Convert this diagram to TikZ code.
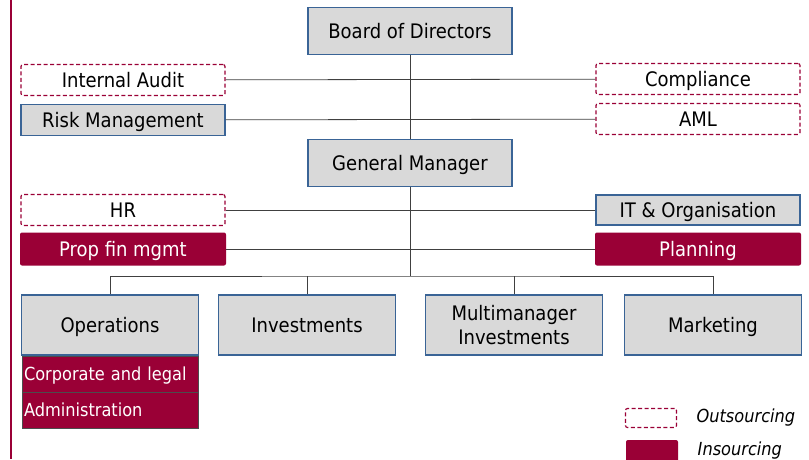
\documentclass[tikz,border=0pt]{standalone}
\usepackage{fontspec}
\setmainfont{DejaVu Sans Condensed}
\usetikzlibrary{positioning, calc}
\definecolor{wine}{HTML}{9A0036}
\definecolor{boxgray}{HTML}{D9D9D9}
\definecolor{boxblue}{HTML}{3A6496}
\definecolor{linegray}{HTML}{404040}

\begin{document}
\begin{tikzpicture}[
    x=1pt, y=-1pt,
    link/.style={thick, linegray},
    unit/.style={rectangle, draw=boxblue, line width=1.2pt, fill=boxgray, font=\fontsize{20}{24}\selectfont, align=center, inner sep=0pt, text height=14pt, text depth=0pt},
    outs/.style={rectangle, draw=wine, dash pattern=on 4pt off 2.5pt, line width=1.2pt, rounded corners=2pt, fill=white, minimum width=204pt, minimum height=31pt, font=\fontsize{20}{24}\selectfont, inner sep=0pt, text height=14pt, text depth=0pt},
    ins/.style={rectangle, fill=wine, rounded corners=2pt, text=white, minimum width=206pt, minimum height=33pt, font=\fontsize{20}{24}\selectfont, inner sep=0pt, text height=14pt, text depth=0pt},
    sub/.style={rectangle, draw=black!70, fill=wine, text=white, minimum width=176pt, minimum height=36pt, text width=172pt, align=left, font=\fontsize{18}{21}\selectfont, inner sep=2pt, text height=13pt, text depth=0pt},
    key/.style={font=\itshape\fontsize{18}{21}\selectfont, anchor=west}
]
    \useasboundingbox (0,0) rectangle (809,459);
    \draw[wine, line width=2pt] (11,0) -- (11,459);

    % top of the tree
    \node[unit, minimum width=204pt, minimum height=47pt] (bod) at (410,31) {Board of Directors};
    \node[unit, minimum width=204pt, minimum height=47pt] (gm)  at (410,163) {General Manager};

    % staff functions
    \node[outs] (audit) at (123,80)  {Internal Audit};
    \node[unit, minimum width=204pt, minimum height=31pt] (risk) at (123,120) {Risk Management};
    \node[outs] (comp)  at (698,79)  {Compliance};
    \node[outs] (aml)   at (698,119) {AML};
    \node[outs] (hr)    at (123,210) {HR};
    \node[ins]  (prop)  at (123,249) {Prop fin mgmt};
    \node[unit, minimum width=204pt, minimum height=30pt] (it) at (698,210) {IT \& Organisation};
    \node[ins]  (plan)  at (698,249) {Planning};

    % departments
    \node[unit, minimum width=177pt, minimum height=60pt] (ops) at (110,325) {Operations};
    \node[unit, minimum width=177pt, minimum height=60pt] (inv) at (307,325) {Investments};
    \node[unit, minimum width=177pt, minimum height=60pt, text height=38pt] (mmi) at (514,325) {Multimanager\\Investments};
    \node[unit, minimum width=177pt, minimum height=60pt] (mkt) at (713,325) {Marketing};
    \node[sub, below=0pt of ops.south] (corp) {Corporate and legal};
    \node[sub, below=0pt of corp] (admin) {Administration};

    \coordinate (bus) at (410,276);

    \draw[link] (bod) -- (gm);
    \draw[link] (audit) -- (comp);
    \draw[link] (risk) -- (aml);
    \draw[link] (hr) -- (it);
    \draw[link] (prop) -- (plan);
    \draw[link] (gm) -- (bus);
    \draw[link] (ops.north) |- (bus) -| (mkt.north);
    \foreach \n in {inv,mmi} {
        \draw[link] (\n.north) -- (\n.north |- bus);
    }

    % legend
    \node[outs, minimum width=51pt, minimum height=19pt] (kout) at (651,418) {};
    \node[ins, minimum width=52pt, minimum height=22pt] (kin) at (652,451) {};
    \node[key, right=16pt of kout] {Outsourcing};
    \node[key, right=16pt of kin] {Insourcing};
\end{tikzpicture}
\end{document}
